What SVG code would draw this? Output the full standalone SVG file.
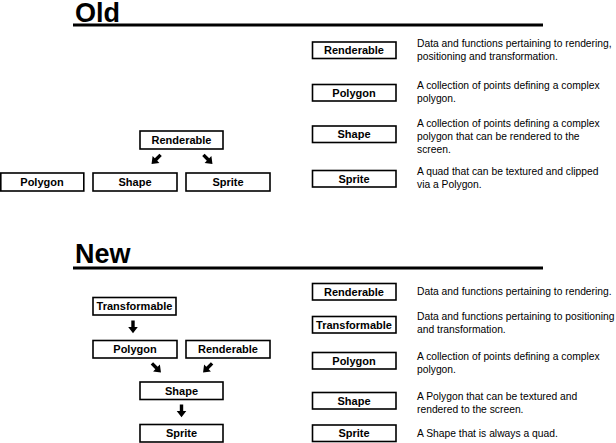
<svg xmlns="http://www.w3.org/2000/svg" width="616" height="443" viewBox="0 0 616 443">
<style>
.bg{fill:#ffffff}
.title{font-family:"Liberation Sans",Arial,sans-serif;font-weight:bold;font-size:27px;fill:#000}
.rule{stroke:#000;stroke-width:3}
.box{fill:#fff;stroke:#000;stroke-width:1.6}
.lbl{font-family:"Liberation Sans",Arial,sans-serif;font-weight:bold;font-size:11px;fill:#000;text-anchor:middle}
.desc{font-family:"Liberation Sans",Arial,sans-serif;font-size:10.3px;fill:#000}
.arr{fill:#000}
</style>
<defs>
<path id="arrow" d="M-1.7,-6.5 L1.7,-6.5 L1.7,0 L4.8,0 L0,6.3 L-4.8,0 L-1.7,0 Z"/>
</defs>
<rect class="bg" x="0" y="0" width="616" height="443"/>

<g id="old-title">
<text class="title" x="75" y="22">Old</text>
<line class="rule" x1="73" y1="25" x2="543" y2="25"/>
</g>

<g id="old-renderable">
<rect class="box" x="140" y="131" width="83" height="18"/>
<text class="lbl" x="181.5" y="144">Renderable</text>
</g>
<g id="old-polygon">
<rect class="box" x="0.8" y="173" width="83" height="18"/>
<text class="lbl" x="42" y="186">Polygon</text>
</g>
<g id="old-shape">
<rect class="box" x="93" y="173" width="84" height="18"/>
<text class="lbl" x="135" y="186">Shape</text>
</g>
<g id="old-sprite">
<rect class="box" x="186" y="173" width="84" height="18"/>
<text class="lbl" x="228" y="186">Sprite</text>
</g>

<g id="old-legend-renderable">
<rect class="box" x="312.5" y="42" width="83.5" height="16.5"/>
<text class="lbl" x="354" y="54.2">Renderable</text>
<text class="desc" x="417" y="47">Data and functions pertaining to rendering,</text>
<text class="desc" x="417" y="60">positioning and transformation.</text>
</g>
<g id="old-legend-polygon">
<rect class="box" x="312.5" y="84.5" width="83.5" height="16.5"/>
<text class="lbl" x="354" y="96.7">Polygon</text>
<text class="desc" x="417" y="89">A collection of points defining a complex</text>
<text class="desc" x="417" y="102">polygon.</text>
</g>
<g id="old-legend-shape">
<rect class="box" x="312.5" y="126" width="83.5" height="16.5"/>
<text class="lbl" x="354" y="138.2">Shape</text>
<text class="desc" x="417" y="127">A collection of points defining a complex</text>
<text class="desc" x="417" y="140">polygon that can be rendered to the</text>
<text class="desc" x="417" y="153">screen.</text>
</g>
<g id="old-legend-sprite">
<rect class="box" x="312.5" y="170.5" width="83.5" height="16.5"/>
<text class="lbl" x="354" y="182.7">Sprite</text>
<text class="desc" x="417" y="175">A quad that can be textured and clipped</text>
<text class="desc" x="417" y="188">via a Polygon.</text>
</g>

<g id="new-title">
<text class="title" x="75" y="263">New</text>
<line class="rule" x1="73" y1="268" x2="543" y2="268"/>
</g>

<g id="new-transformable">
<rect class="box" x="93" y="297.5" width="83" height="17.5"/>
<text class="lbl" x="134.5" y="310">Transformable</text>
</g>
<g id="new-polygon">
<rect class="box" x="93" y="340.5" width="84" height="17.5"/>
<text class="lbl" x="135" y="353">Polygon</text>
</g>
<g id="new-renderable">
<rect class="box" x="186" y="340.5" width="84" height="17.5"/>
<text class="lbl" x="228" y="353">Renderable</text>
</g>
<g id="new-shape">
<rect class="box" x="140" y="382" width="83" height="17.5"/>
<text class="lbl" x="181.5" y="394.5">Shape</text>
</g>
<g id="new-sprite">
<rect class="box" x="140" y="424.5" width="83" height="17.5"/>
<text class="lbl" x="181.5" y="437">Sprite</text>
</g>

<g id="new-legend-renderable">
<rect class="box" x="312.5" y="283.5" width="83.5" height="16.5"/>
<text class="lbl" x="354" y="295.7">Renderable</text>
<text class="desc" x="417" y="295">Data and functions pertaining to rendering.</text>
</g>
<g id="new-legend-transformable">
<rect class="box" x="312.5" y="316.5" width="83.5" height="16.5"/>
<text class="lbl" x="354" y="328.7">Transformable</text>
<text class="desc" x="417" y="320">Data and functions pertaining to positioning</text>
<text class="desc" x="417" y="333">and transformation.</text>
</g>
<g id="new-legend-polygon">
<rect class="box" x="312.5" y="352.5" width="83.5" height="16.5"/>
<text class="lbl" x="354" y="364.7">Polygon</text>
<text class="desc" x="417" y="360">A collection of points defining a complex</text>
<text class="desc" x="417" y="373">polygon.</text>
</g>
<g id="new-legend-shape">
<rect class="box" x="312.5" y="392.5" width="83.5" height="16.5"/>
<text class="lbl" x="354" y="404.7">Shape</text>
<text class="desc" x="417" y="400">A Polygon that can be textured and</text>
<text class="desc" x="417" y="413">rendered to the screen.</text>
</g>
<g id="new-legend-sprite">
<rect class="box" x="312.5" y="425" width="83.5" height="16.5"/>
<text class="lbl" x="354" y="437.2">Sprite</text>
<text class="desc" x="417" y="437">A Shape that is always a quad.</text>
</g>

<g id="connectors" class="arr">
<use href="#arrow" transform="translate(156,159.5) rotate(45)"/>
<use href="#arrow" transform="translate(208,159.5) rotate(-45)"/>
<use href="#arrow" transform="translate(133,327)"/>
<use href="#arrow" transform="translate(156.5,368) rotate(-45)"/>
<use href="#arrow" transform="translate(207.5,368) rotate(45)"/>
<use href="#arrow" transform="translate(181.5,411)"/>
</g>
</svg>
